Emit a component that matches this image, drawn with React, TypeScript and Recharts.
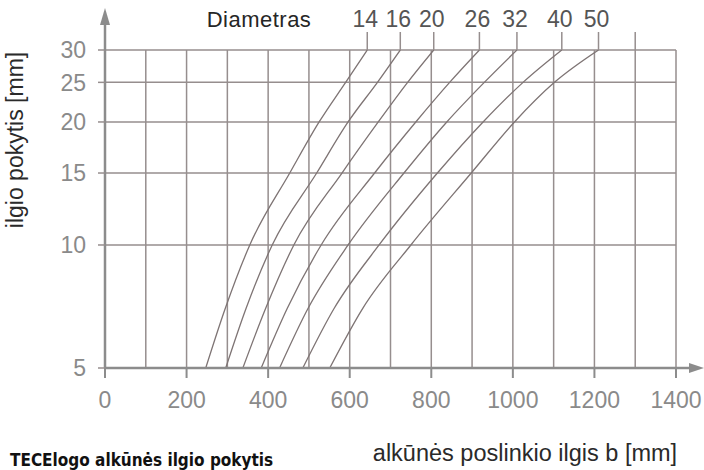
import React from 'react';
import { LineChart, Line, XAxis, YAxis, CartesianGrid, ReferenceLine, ReferenceDot } from 'recharts';

// Diameters (series names)
const diameters = ['14', '16', '20', '26', '32', '40', '50'];
// Length change levels [mm] at which the curves were read
const yLevels = [5, 7, 10, 15, 20, 25, 30];
// Elbow offset length b [mm] for each diameter at the levels above
const b14 = [247, 295, 355, 453, 525, 590, 643];
const b16 = [296, 346, 410, 519, 596, 668, 724];
const b20 = [338, 394, 463, 581, 670, 742, 806];
const b26 = [383, 447, 530, 661, 762, 845, 918];
const b32 = [428, 498, 596, 733, 838, 930, 1010];
const b40 = [485, 562, 672, 815, 927, 1025, 1120];
const b50 = [551, 632, 750, 898, 1004, 1102, 1210];
const seriesB = [b14, b16, b20, b26, b32, b40, b50];

const xTicks = [0, 100, 200, 300, 400, 500, 600, 700, 800, 900, 1000, 1100, 1200, 1300, 1400];
const xLabelTicks = [0, 200, 400, 600, 800, 1000, 1200, 1400];
const yTicks = [5, 10, 15, 20, 25, 30];
const leaderTop = 33.2;
const extraLeaderX = 1300;

const GRID = '#968e8e';
const CURVE = '#7e7474';
const AXIS = '#8c8c8c';
const TICKTXT = '#8a8a8a';
const FONT = "'Liberation Sans', Arial, sans-serif";

const seriesData = seriesB.map((arr) => arr.map((b, i) => ({ b, dl: yLevels[i] })));

const XTick = (props: any) => {
  const { x, y, payload } = props;
  if (!xLabelTicks.includes(payload.value)) return <g />;
  return (
    <g>
      <line x1={x} y1={y} x2={x} y2={y + 10} stroke={AXIS} strokeWidth={2} />
      <text x={x} y={y + 40} textAnchor="middle" fill={TICKTXT} fontSize={23} fontFamily={FONT}>
        {payload.value}
      </text>
    </g>
  );
};

const LabelShape = (text: string) => (p: any) => (
  <text x={p.cx - 2} y={p.cy - 5} textAnchor="middle" fill="#555" fontSize={23} fontFamily={FONT}>
    {text}
  </text>
);

const YArrow = (p: any) => (
  <g>
    <line x1={p.cx} y1={p.cy} x2={p.cx} y2={p.cy - 30} stroke={AXIS} strokeWidth={2.5} />
    <polygon points={`${p.cx},${p.cy - 42} ${p.cx - 5},${p.cy - 25} ${p.cx + 5},${p.cy - 25}`} fill={AXIS} />
  </g>
);

const XArrow = (p: any) => (
  <g>
    <line x1={p.cx} y1={p.cy} x2={p.cx + 16} y2={p.cy} stroke={AXIS} strokeWidth={2.5} />
    <polygon points={`${p.cx + 28},${p.cy} ${p.cx + 13},${p.cy - 5} ${p.cx + 13},${p.cy + 5}`} fill={AXIS} />
  </g>
);

export default function App() {
  const leaderXs = seriesB.map((arr) => arr[arr.length - 1]);
  return (
    <div style={{ position: 'absolute', left: 0, top: 0, width: 704, height: 470, background: '#fff', overflow: 'hidden' }}>
      <LineChart width={704} height={470} margin={{ top: 50, right: 28, left: 45, bottom: 62 }}>
        <CartesianGrid stroke={GRID} strokeWidth={1.5} />
        <XAxis
          dataKey="b"
          type="number"
          domain={[0, 1400]}
          ticks={xTicks}
          interval={0}
          allowDataOverflow
          height={40}
          tickSize={0}
          tickMargin={0}
          tickLine={false}
          axisLine={{ stroke: AXIS, strokeWidth: 2.5 }}
          tick={<XTick />}
        />
        <YAxis
          dataKey="dl"
          type="number"
          scale="log"
          domain={[5, 30]}
          ticks={yTicks}
          interval={0}
          allowDataOverflow
          width={60}
          tickSize={7}
          tickMargin={12}
          tickLine={{ stroke: GRID, strokeWidth: 1.5 }}
          axisLine={{ stroke: AXIS, strokeWidth: 2.5 }}
          tick={{ fill: TICKTXT, fontSize: 23, fontFamily: FONT }}
        />
        {seriesData.map((d, i) => (
          <Line
            key={diameters[i]}
            data={d}
            dataKey="dl"
            name={diameters[i]}
            type="monotone"
            stroke={CURVE}
            strokeWidth={1.3}
            dot={false}
            activeDot={false}
            isAnimationActive={false}
          />
        ))}
        {leaderXs.map((x, i) => (
          <ReferenceLine
            key={'l' + i}
            segment={[{ x, y: 30 }, { x, y: leaderTop }]}
            stroke={GRID}
            strokeWidth={1.5}
            ifOverflow="visible"
          />
        ))}
        <ReferenceLine
          segment={[{ x: extraLeaderX, y: 30 }, { x: extraLeaderX, y: leaderTop }]}
          stroke={GRID}
          strokeWidth={1.5}
          ifOverflow="visible"
        />
        {leaderXs.map((x, i) => (
          <ReferenceDot key={'t' + i} x={x} y={leaderTop} r={0} ifOverflow="visible" shape={LabelShape(diameters[i])} />
        ))}
        <ReferenceDot x={0} y={30} r={0} ifOverflow="visible" shape={YArrow} />
        <ReferenceDot x={1400} y={5} r={0} ifOverflow="visible" shape={XArrow} />
      </LineChart>
      <svg width={704} height={470} style={{ position: 'absolute', left: 0, top: 0, pointerEvents: 'none' }}>
        <text x={259} y={26.5} textAnchor="middle" fill="#262626" fontSize={22} letterSpacing={0.5} fontFamily={FONT}>
          Diametras
        </text>
        <text transform="translate(23,140) rotate(-90)" textAnchor="middle" fill="#2a2a2a" fontSize={23} fontFamily={FONT}>
          ilgio pokytis [mm]
        </text>
        <text x={525} y={461} textAnchor="middle" fill="#2a2a2a" fontSize={23.5} fontFamily={FONT}>
          alkūnės poslinkio ilgis b [mm]
        </text>
        <text x={10} y={465.5} fill="#111" fontSize={17} fontWeight="bold" fontFamily="'Liberation Sans Narrow', 'DejaVu Sans Condensed', sans-serif">
          TECElogo alkūnės ilgio pokytis
        </text>
      </svg>
    </div>
  );
}
